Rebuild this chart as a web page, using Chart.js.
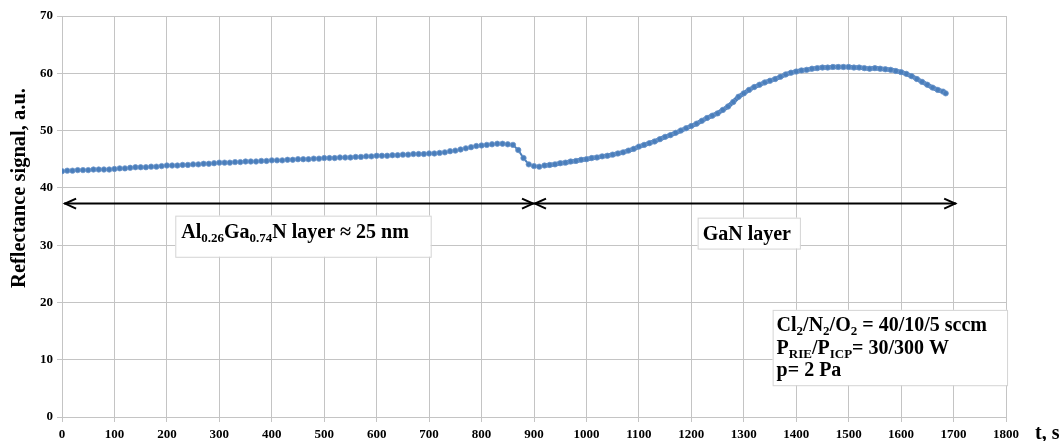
<!DOCTYPE html>
<html><head><meta charset="utf-8">
<script src="https://cdn.jsdelivr.net/npm/chart.js@4"></script>
<style>html,body{margin:0;padding:0;background:#fff}#wrap{width:1064px;height:441px}</style>
</head><body><div id="wrap"><canvas id="c" width="1064" height="441"></canvas></div>
<script>
// time, s
const times = [0,10,20,30,40,50,60,70,80,90,100,110,120,130,140,150,160,170,180,190,200,210,220,230,240,250,260,270,280,290,300,310,320,330,340,350,360,370,380,390,400,410,420,430,440,450,460,470,480,490,500,510,520,530,540,550,560,570,580,590,600,610,620,630,640,650,660,670,680,690,700,710,720,730,740,750,760,770,780,790,800,810,820,830,840,850,860,870,880,890,900,910,920,930,940,950,960,970,980,990,1000,1010,1020,1030,1040,1050,1060,1070,1080,1090,1100,1110,1120,1130,1140,1150,1160,1170,1180,1190,1200,1210,1220,1230,1240,1250,1260,1270,1280,1290,1300,1310,1320,1330,1340,1350,1360,1370,1380,1390,1400,1410,1420,1430,1440,1450,1460,1470,1480,1490,1500,1510,1520,1530,1540,1550,1560,1570,1580,1590,1600,1610,1620,1630,1640,1650,1660,1670,1680,1685];
// reflectance signal, a.u.
const signal = [42.9,43.0,43.0,43.1,43.1,43.1,43.2,43.2,43.2,43.2,43.3,43.4,43.4,43.5,43.6,43.6,43.6,43.7,43.7,43.8,43.9,43.9,43.9,44.0,44.0,44.1,44.1,44.2,44.2,44.3,44.4,44.4,44.4,44.5,44.5,44.6,44.6,44.6,44.7,44.7,44.8,44.8,44.8,44.9,44.9,45.0,45.0,45.0,45.1,45.1,45.2,45.2,45.2,45.3,45.3,45.3,45.4,45.4,45.5,45.5,45.6,45.6,45.6,45.7,45.7,45.8,45.8,45.9,45.9,45.9,46.0,46.0,46.1,46.2,46.4,46.5,46.7,46.9,47.1,47.3,47.4,47.5,47.6,47.7,47.7,47.6,47.5,46.6,45.2,44.1,43.8,43.7,43.9,44.0,44.1,44.3,44.4,44.6,44.7,44.9,45.0,45.2,45.3,45.5,45.6,45.8,46.0,46.2,46.5,46.8,47.2,47.5,47.8,48.1,48.5,48.9,49.2,49.6,50.0,50.4,50.8,51.2,51.7,52.2,52.6,53.0,53.6,54.2,55.0,55.9,56.5,57.1,57.6,58.0,58.4,58.7,59.0,59.4,59.8,60.1,60.3,60.5,60.6,60.8,60.9,61.0,61.0,61.1,61.1,61.1,61.1,61.0,61.0,60.9,60.8,60.9,60.8,60.7,60.6,60.4,60.2,59.9,59.5,59.0,58.5,58.0,57.5,57.1,56.8,56.5];
const xTicks = [0,100,200,300,400,500,600,700,800,900,1000,1100,1200,1300,1400,1500,1600,1700,1800];
const yTicks = [0,10,20,30,40,50,60,70];
// double arrows: [tStart, tEnd, level]
const arrowSpans = [[4,900,37.25],[900,1705,37.25]];

const SERIF = "'Liberation Serif','Times New Roman',serif";

function drawRich(ctx, x, y, parts, size, subSize){
  let cx = x;
  for (const p of parts){
    const sub = p[1];
    ctx.font = 'bold ' + (sub ? subSize : size) + 'px ' + SERIF;
    ctx.fillText(p[0], cx, sub ? y + 4 : y);
    cx += ctx.measureText(p[0]).width;
  }
}

const annot = {
  id:'annot',
  afterDatasetsDraw(chart){
    const {ctx, scales:{x,y}} = chart;
    ctx.save();
    ctx.strokeStyle='#000'; ctx.lineWidth=2;
    for (const a of arrowSpans){
      const x1=x.getPixelForValue(a[0]), x2=x.getPixelForValue(a[1]), py=y.getPixelForValue(a[2]);
      ctx.beginPath(); ctx.moveTo(x1,py); ctx.lineTo(x2,py); ctx.stroke();
      ctx.beginPath(); ctx.moveTo(x1+12,py-5); ctx.lineTo(x1+1,py); ctx.lineTo(x1+12,py+5); ctx.stroke();
      ctx.beginPath(); ctx.moveTo(x2-12,py-5); ctx.lineTo(x2-1,py); ctx.lineTo(x2-12,py+5); ctx.stroke();
    }
    const boxes = [
      {t0:216,t1:703,v0:35.15,v1:27.97, dx:6, base:[22], lines:[[['Al'],['0.26',1],['Ga'],['0.74',1],['N layer ≈ 25 nm']]]},
      {t0:1212,t1:1407,v0:34.8,v1:29.4, dx:5, base:[22], lines:[[['GaN layer']]]},
      {t0:1355,t1:1802,v0:18.7,v1:5.55, dx:4, base:[21,44,66], lines:[
        [['Cl'],['2',1],['/N'],['2',1],['/O'],['2',1],[' = 40/10/5 sccm']],
        [['P'],['RIE',1],['/P'],['ICP',1],['= 30/300 W']],
        [['p= 2 Pa']]]}
    ];
    for (const b of boxes){
      const bx=x.getPixelForValue(b.t0), bx2=x.getPixelForValue(b.t1);
      const by=y.getPixelForValue(b.v0), by2=y.getPixelForValue(b.v1);
      ctx.fillStyle='#fff'; ctx.fillRect(bx,by,bx2-bx,by2-by);
      ctx.strokeStyle='#d4d4d4'; ctx.lineWidth=1; ctx.strokeRect(bx+0.5,by+0.5,bx2-bx,by2-by);
      ctx.fillStyle='#000'; ctx.textBaseline='alphabetic'; ctx.textAlign='left';
      for (let i=0;i<b.lines.length;i++) drawRich(ctx, bx+b.dx, by+b.base[i], b.lines[i], 20, 13);
    }
    ctx.fillStyle='#000'; ctx.font='bold 20px '+SERIF; ctx.textBaseline='middle';
    ctx.fillText('t, s', 1035, 434);
    ctx.translate(20, 188); ctx.rotate(-Math.PI/2);
    ctx.textAlign='center'; ctx.font='bold 20.5px '+SERIF;
    ctx.fillText('Reflectance signal, a.u.', 0, 0);
    ctx.restore();
  }
};

new Chart(document.getElementById('c'), {
  type:'line',
  data:{datasets:[{
    data: times.map((t,i)=>({x:t,y:signal[i]})),
    borderColor:'#4a7ebb', backgroundColor:'#4f81bd', borderWidth:2,
    segment:{borderWidth: c => c.p0.parsed.x >= 920 ? 4.5 : 2},
    pointRadius:2.7, pointBorderWidth:0.8, pointBorderColor:'#6d97cb', pointBackgroundColor:'#4a7ebb',
    pointStyle:'circle', tension:0
  }]},
  options:{
    responsive:false, animation:false,
    layout:{padding:{top:16,right:58,left:0,bottom:0}},
    plugins:{legend:{display:false}, tooltip:{enabled:false}},
    scales:{
      x:{type:'linear', min:0, max:1800,
        afterBuildTicks(s){ s.ticks = xTicks.map(v=>({value:v})); },
        afterFit(s){ s.height = 24; },
        grid:{color:'#c4c4c4', lineWidth:1, tickLength:5, drawTicks:true},
        border:{color:'#c4c4c4'},
        ticks:{color:'#000', font:{family:SERIF, weight:'bold', size:13}, padding:5, maxRotation:0, autoSkip:false, callback:v=>String(v)}
      },
      y:{type:'linear', min:0, max:70,
        afterBuildTicks(s){ s.ticks = yTicks.map(v=>({value:v})); },
        afterFit(s){ s.width = 62; },
        grid:{color:'#c4c4c4', lineWidth:1, tickLength:5},
        border:{color:'#c4c4c4'},
        ticks:{color:'#000', font:{family:SERIF, weight:'bold', size:13}, padding:4, callback:v=>String(v)}
      }
    }
  },
  plugins:[annot]
});
</script></body></html>
